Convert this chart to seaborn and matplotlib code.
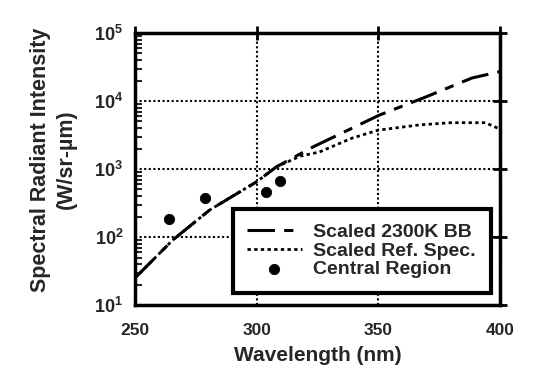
import numpy as np
import pandas as pd
import matplotlib
matplotlib.use("Agg")
import matplotlib.pyplot as plt
import seaborn as sns
from matplotlib.ticker import FixedLocator, LogLocator, NullFormatter

# --- data ---
bb_wl = [250, 265.6, 280.7, 300, 308, 323, 350.4, 369.6, 388.5, 400]
bb_val = [25, 91, 250, 650, 1070, 2100, 6200, 11500, 21800, 27000]

ref_wl = [250, 265.6, 280.7, 300, 308, 318, 325.8, 339, 350, 367, 380, 394, 399]
ref_val = [25, 91, 250, 650, 1070, 1550, 1780, 2830, 3730, 4460, 4800, 4800, 4000]

pts_wl = [264, 278.7, 304, 309.4]
pts_val = [183, 373, 460, 660]

x_ticks = [250, 300, 350, 400]
y_ticks = [1e1, 1e2, 1e3, 1e4, 1e5]
y_labels = ['10$^{1}$', '10$^{2}$', '10$^{3}$', '10$^{4}$', '10$^{5}$']

sns.set_style("white")
plt.rcParams['font.family'] = ['Liberation Sans', 'DejaVu Sans']
plt.rcParams['mathtext.default'] = 'regular'
plt.rcParams['font.weight'] = 'bold'

fig = plt.figure(figsize=(5.33, 3.78), dpi=100)
ax = fig.add_axes([0.2533, 0.193, 0.6847, 0.7197])

bb = pd.DataFrame({'wl': bb_wl, 'val': bb_val})
ref = pd.DataFrame({'wl': ref_wl, 'val': ref_val})
pts = pd.DataFrame({'wl': pts_wl, 'val': pts_val})

sns.lineplot(data=bb, x='wl', y='val', ax=ax, color='black', lw=2.2,
             label='Scaled 2300K BB', dashes=False)
ax.lines[-1].set_dashes([9, 3, 3, 3])
sns.lineplot(data=ref, x='wl', y='val', ax=ax, color='black', lw=2.0,
             label='Scaled Ref. Spec.')
ax.lines[-1].set_dashes([1.2, 1.2])
sns.scatterplot(data=pts, x='wl', y='val', ax=ax, color='black', s=55,
                edgecolor='black', label='Central Region', zorder=5)

ax.set_yscale('log')
ax.set_xlim(250, 400)
ax.set_ylim(1e1, 1e5)

ax.xaxis.set_major_locator(FixedLocator(x_ticks))
ax.set_xticklabels([str(t) for t in x_ticks], fontsize=12.5, fontweight='bold')
ax.yaxis.set_major_locator(FixedLocator(y_ticks))
ax.set_yticklabels(y_labels, fontsize=13, fontweight='bold')
ax.yaxis.set_minor_locator(LogLocator(base=10, subs=np.arange(2, 10)))
ax.yaxis.set_minor_formatter(NullFormatter())

ax.tick_params(axis='x', which='major', pad=8)
ax.tick_params(axis='both', which='major', direction='inout', length=10,
               width=2, top=True, right=True, color='black')
ax.tick_params(axis='y', which='minor', direction='in', length=5, width=1.5,
               left=True, right=False)

for sp in ax.spines.values():
    sp.set_linewidth(2.5)
    sp.set_color('black')

ax.grid(True, which='major', linestyle=(0, (1, 1.2)), color='black', lw=1.5)
ax.grid(False, which='minor')

ax.set_xlabel('Wavelength (nm)', fontsize=15, fontweight='bold', labelpad=6)
ax.set_ylabel('Spectral Radiant Intensity\n(W/sr-\u00b5m)', fontsize=15.5,
              fontweight='bold', linespacing=1.3)
ax.yaxis.set_label_coords(-0.16, 0.535)

leg = ax.legend(loc='lower right', bbox_to_anchor=(0.985, 0.03), frameon=True,
                fancybox=False, fontsize=14, handlelength=2.8,
                borderpad=0.75, labelspacing=0.05, handletextpad=0.6,
                borderaxespad=0.2)
leg.get_frame().set_edgecolor('black')
leg.get_frame().set_linewidth(3)
leg.get_frame().set_alpha(1)
for t in leg.get_texts():
    t.set_fontweight('bold')

fig.savefig('out.png', dpi=100, facecolor='white')
